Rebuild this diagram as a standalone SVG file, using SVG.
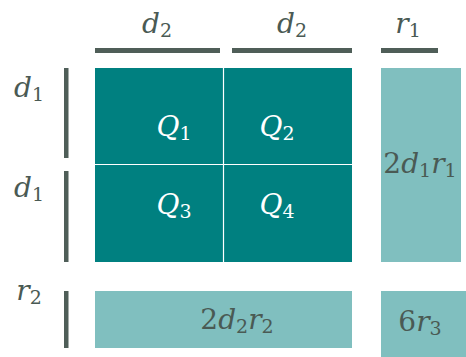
<svg xmlns="http://www.w3.org/2000/svg" width="466" height="357" viewBox="0 0 466 357">
<style>
.bar{fill:#4f5e58}
.dark{fill:#008080}
.light{fill:#80bfbf}
.div{stroke:#ffffff;stroke-width:1.2;fill:none}
text{font-family:'DejaVu Serif',serif;font-size:28px;fill:#4a5a54}
.w{fill:#ffffff}
.i{font-style:italic}
.s{font-size:19px;font-style:normal}
</style>
<rect width="466" height="357" fill="#ffffff"/>
<g id="bars">
<rect class="bar" x="95" y="48" width="125" height="5"/>
<rect class="bar" x="232" y="48" width="120" height="5"/>
<rect class="bar" x="381" y="48" width="57" height="5"/>
<rect class="bar" x="64" y="68" width="4.5" height="90"/>
<rect class="bar" x="64" y="171" width="4.5" height="91"/>
<rect class="bar" x="64" y="291" width="4.5" height="57"/>
</g>
<g id="labels">
<text x="157" y="33" text-anchor="middle"><tspan class="i">d</tspan><tspan class="s" dy="4">2</tspan></text>
<text x="292" y="33" text-anchor="middle"><tspan class="i">d</tspan><tspan class="s" dy="4">2</tspan></text>
<text x="408" y="33" text-anchor="middle"><tspan class="i">r</tspan><tspan class="s" dy="4">1</tspan></text>
<text x="29" y="97" text-anchor="middle"><tspan class="i">d</tspan><tspan class="s" dy="4">1</tspan></text>
<text x="29" y="197" text-anchor="middle"><tspan class="i">d</tspan><tspan class="s" dy="4">1</tspan></text>
<text x="29" y="300" text-anchor="middle"><tspan class="i">r</tspan><tspan class="s" dy="4">2</tspan></text>
</g>
<g id="Q">
<rect class="dark" x="95" y="68" width="257" height="194"/>
<line class="div" x1="223.5" y1="68" x2="223.5" y2="262"/>
<line class="div" x1="95" y1="164.5" x2="352" y2="164.5"/>
<text class="w" x="174" y="136" text-anchor="middle"><tspan class="i w">Q</tspan><tspan class="s w" dy="4">1</tspan></text>
<text class="w" x="277" y="136" text-anchor="middle"><tspan class="i w">Q</tspan><tspan class="s w" dy="4">2</tspan></text>
<text class="w" x="174" y="214" text-anchor="middle"><tspan class="i w">Q</tspan><tspan class="s w" dy="4">3</tspan></text>
<text class="w" x="277" y="214" text-anchor="middle"><tspan class="i w">Q</tspan><tspan class="s w" dy="4">4</tspan></text>
</g>
<g id="R1">
<rect class="light" x="381" y="68" width="80" height="194"/>
<text x="420" y="173" text-anchor="middle">2<tspan class="i">d</tspan><tspan class="s" dy="4">1</tspan><tspan class="i" dy="-4">r</tspan><tspan class="s" dy="4">1</tspan></text>
</g>
<g id="R2">
<rect class="light" x="95" y="291" width="257" height="57"/>
<text x="237" y="329" text-anchor="middle">2<tspan class="i">d</tspan><tspan class="s" dy="4">2</tspan><tspan class="i" dy="-4">r</tspan><tspan class="s" dy="4">2</tspan></text>
</g>
<g id="R3">
<rect class="light" x="381" y="291" width="85" height="66"/>
<text x="420" y="331" text-anchor="middle">6<tspan class="i">r</tspan><tspan class="s" dy="4">3</tspan></text>
</g>
</svg>
